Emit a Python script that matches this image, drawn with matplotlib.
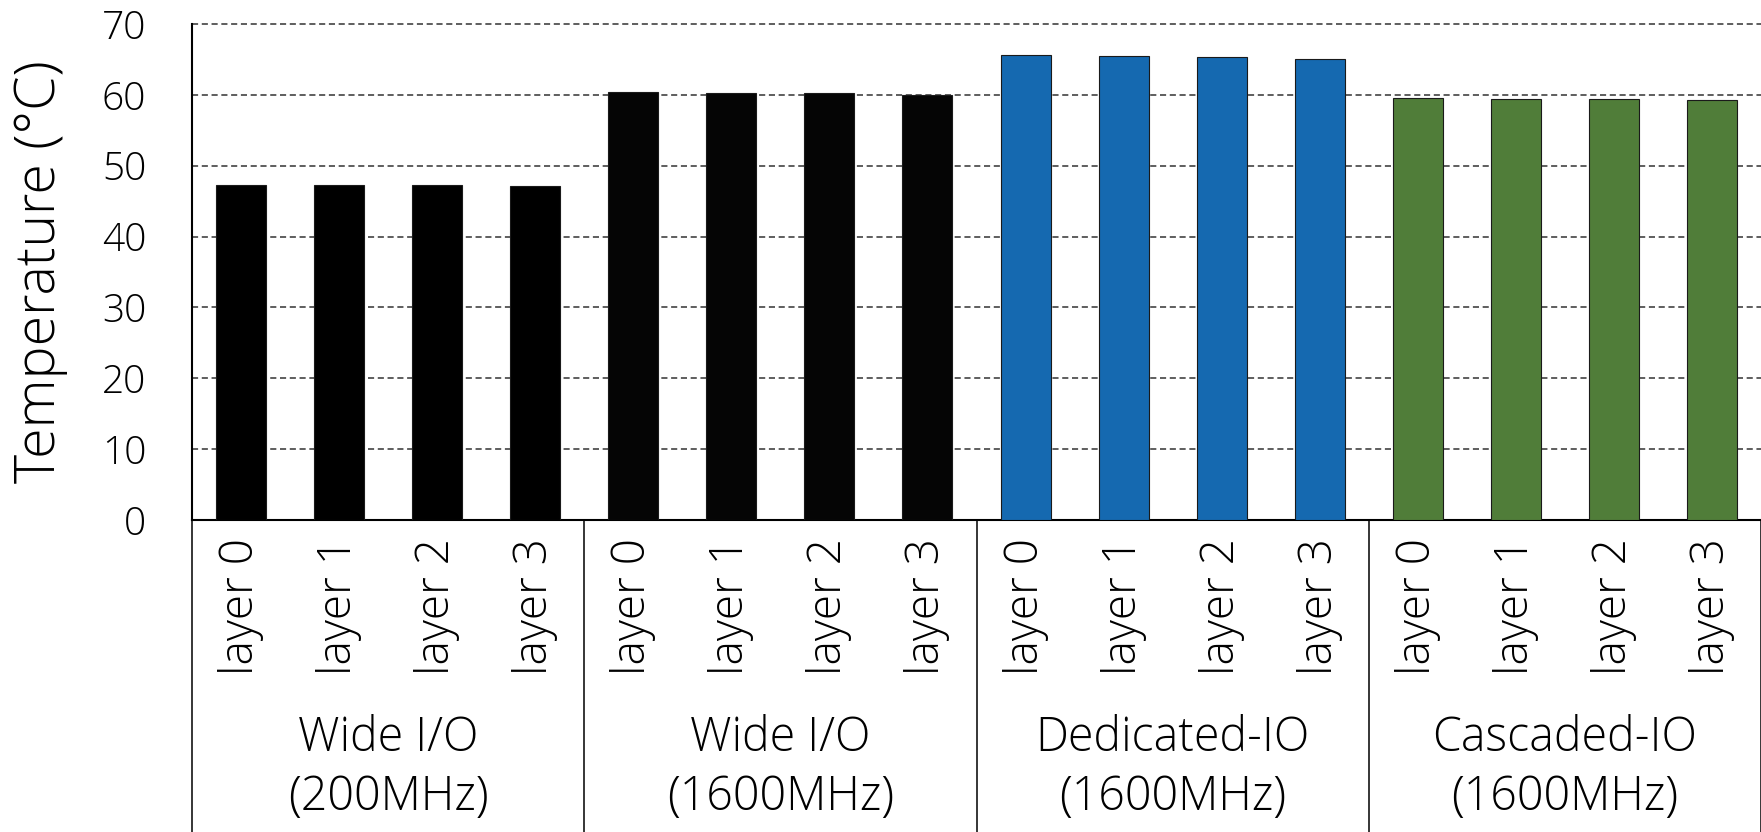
import matplotlib
matplotlib.use("Agg")
import matplotlib.pyplot as plt
import matplotlib.transforms as mtransforms
import numpy as np

# Peak temperature per DRAM layer for each interface configuration
groups = ["Wide I/O\n(200MHz)", "Wide I/O\n(1600MHz)",
          "Dedicated-IO\n(1600MHz)", "Cascaded-IO\n(1600MHz)"]
layers = ["layer 0", "layer 1", "layer 2", "layer 3"]
wideio_200 = [47.3, 47.3, 47.25, 47.2]
wideio_1600 = [60.35, 60.25, 60.2, 60.05]
dedicated_1600 = [65.6, 65.45, 65.3, 65.1]
cascaded_1600 = [59.5, 59.45, 59.4, 59.25]
group_colors = ["#000000", "#050505", "#1569b0", "#507d39"]
yticks = [0, 10, 20, 30, 40, 50, 60, 70]

series = [wideio_200, wideio_1600, dedicated_1600, cascaded_1600]

plt.rcParams["font.family"] = ["Open Sans", "DejaVu Sans"]
plt.rcParams["font.weight"] = 300
plt.rcParams["text.color"] = "black"
plt.rcParams["xtick.color"] = "black"
plt.rcParams["ytick.color"] = "black"

W, H = 1761, 832
fig = plt.figure(figsize=(W / 100, H / 100), dpi=100)
ax = fig.add_axes([192 / W, 1 - 520 / H, 1 - 192 / W, (520 - 24) / H])

n_layers = len(layers)
positions, heights, colors, labels = [], [], [], []
for gi, vals in enumerate(series):
    for li, v in enumerate(vals):
        positions.append(gi * n_layers + li)
        heights.append(v)
        colors.append(group_colors[gi])
        labels.append(layers[li])

ax.bar(positions, heights, width=0.51, color=colors,
       edgecolor="#1a1a1a", linewidth=0.8, zorder=3)

n = len(positions)
ax.set_xlim(-0.5, n - 0.5)
ax.set_ylim(0, 70)
ax.set_yticks(yticks)
ax.set_xticks(positions)
ax.set_xticklabels(labels, rotation=90, fontsize=33, fontweight=300)
ax.tick_params(axis="x", length=0, pad=13)
ax.tick_params(axis="y", length=0, pad=33, labelsize=28)
for t in ax.get_yticklabels():
    t.set_fontweight(300)

ax.yaxis.grid(True, linestyle=(0, (4.0, 2.4)), color="#333333",
              linewidth=1.1, zorder=0)
ax.set_axisbelow(True)
for gl in ax.yaxis.get_gridlines():
    gl.set_clip_on(False)

for side in ("top", "right"):
    ax.spines[side].set_visible(False)
for side in ("left", "bottom"):
    ax.spines[side].set_linewidth(1.5)
    ax.spines[side].set_color("black")

ax.set_ylabel("Temperature (°C)", fontsize=40, fontweight=300, labelpad=24)

# Group separators and group names below the layer labels
trans = mtransforms.blended_transform_factory(ax.transData, fig.transFigure)
y_axis_fig = 1 - 520 / H
for gi in range(len(groups) + 1):
    x = gi * n_layers - 0.5
    ax.plot([x, x], [y_axis_fig, 0], transform=trans, color="black",
            linewidth=1.1, clip_on=False, zorder=4)
for gi, name in enumerate(groups):
    xc = gi * n_layers + (n_layers - 1) / 2
    ax.text(xc, 1 - 768 / H, name, transform=trans, ha="center", va="center",
            fontsize=33.5, fontweight=300, linespacing=1.3)

fig.savefig("out.png", dpi=100)
